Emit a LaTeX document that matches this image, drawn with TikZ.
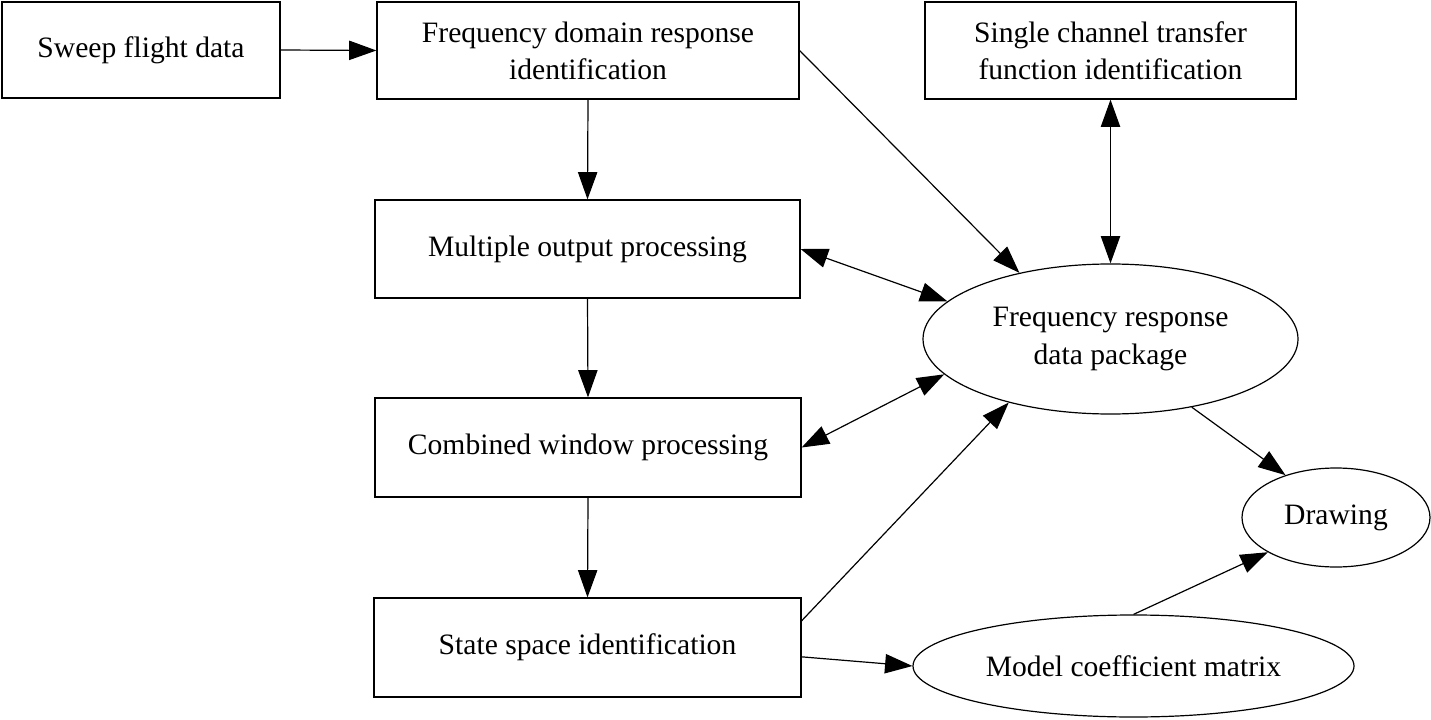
\documentclass[tikz,border=0pt]{standalone}
\usepackage{fontspec}
\setmainfont{Liberation Serif}
\usetikzlibrary{arrows.meta,shapes.geometric}
\begin{document}
\begin{tikzpicture}[x=0.75pt,y=-0.75pt,
  every node/.style={font=\fontsize{22.2}{27.8}\selectfont, align=center, inner sep=0pt},
  box/.style={draw, line width=0.9pt, rectangle},
  oval/.style={draw, line width=0.9pt, ellipse},
  conn/.style={line width=0.9pt, -{Triangle[length=20.5pt,width=14.5pt]}},
  bconn/.style={line width=0.9pt, {Triangle[length=20.5pt,width=14.5pt]}-{Triangle[length=20.5pt,width=14.5pt]}}]
\useasboundingbox (0,0) rectangle (1431,720);
\node[box, minimum width=208.5pt, minimum height=72pt] (sweep) at (141,50) {Sweep flight data};
\node[box, minimum width=316.5pt, minimum height=72.75pt] (fdri) at (588,50.5) {Frequency domain response\\identification};
\node[box, minimum width=278.25pt, minimum height=72.75pt] (scti) at (1110.5,50.5) {Single channel transfer\\function identification};
\node[box, minimum width=318.75pt, minimum height=73.5pt] (mop) at (587.5,249) {Multiple output processing};
\node[box, minimum width=319.5pt, minimum height=74.25pt] (cwp) at (588,447.5) {Combined window processing};
\node[box, minimum width=320.25pt, minimum height=74.25pt] (ssi) at (587.5,647.5) {State space identification};
\node[oval, minimum width=281.25pt, minimum height=112.5pt] (frdp) at (1110.5,339) {Frequency response\\data package};
\node[oval, minimum width=141pt, minimum height=74.25pt] (draw) at (1336,517.5) {Drawing};
\node[oval, minimum width=330.75pt, minimum height=76.5pt] (model) at (1133.5,666) {Model coefficient matrix};

\draw[conn] (sweep.east) -- (fdri.west);
\draw[conn] (fdri.south) -- (mop.north);
\draw[conn] (mop.south) -- (cwp.north);
\draw[conn] (cwp.south) -- (ssi.north);
\draw[conn] (fdri.east) -- (frdp.144.5);
\draw[bconn] (scti.south) -- (frdp.north);
\draw[bconn] (mop.east) -- (frdp.167.9);
\draw[bconn] (cwp.east) -- (frdp.192.9);
\draw[conn] ([yshift=20pt]ssi.east) -- (frdp.212.75);
\draw[conn] ([yshift=-7pt]ssi.east) -- (model.west);
\draw[conn] (frdp.320.2) -- (draw.140.2);
\draw[conn] (model.north) -- (draw.207.2);
\end{tikzpicture}
\end{document}
